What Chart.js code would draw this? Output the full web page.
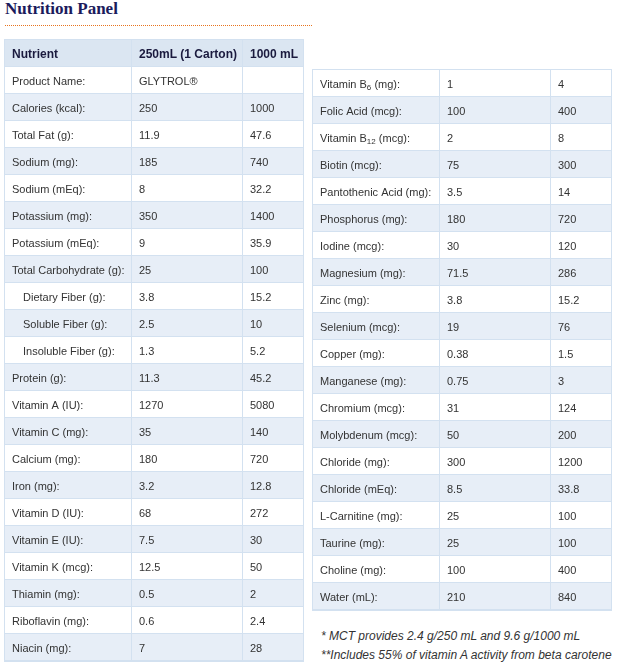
<!DOCTYPE html>
<html><head><meta charset="utf-8">
<script src="https://cdn.jsdelivr.net/npm/chart.js@4"></script>
<style>
html,body{margin:0;padding:0;background:#fff;}
body{width:630px;height:667px;position:relative;overflow:hidden;font-family:"Liberation Sans",Arial,sans-serif;}
#title{position:absolute;left:5px;top:-1px;font:bold 17px "Liberation Serif",serif;color:#1b1b5c;white-space:nowrap;}
#rule{position:absolute;left:5px;top:25px;width:307px;height:0;border-top:1px dotted #e8741e;}
canvas{position:absolute;}
#c1{left:4px;top:39px;}
#c2{left:312px;top:69px;}
.note{position:absolute;left:321px;font:italic 12px "Liberation Sans",Arial,sans-serif;color:#333;white-space:nowrap;}
</style>
</head><body>
<div id="title">Nutrition Panel</div>
<div id="rule"></div>
<canvas id="c1" width="300" height="623" style="width:300px;height:623px"></canvas>
<canvas id="c2" width="300" height="542" style="width:300px;height:542px"></canvas>
<div class="note" style="top:629px">* MCT provides 2.4 g/250 mL and 9.6 g/1000 mL</div>
<div class="note" style="top:648px">**Includes 55% of vitamin A activity from beta carotene</div>
<script>
// ---------- data ----------
const headers = ["Nutrient", "250mL (1 Carton)", "1000 mL"];
const leftNutrients = ["Product Name:", "Calories (kcal):", "Total Fat (g):", "Sodium (mg):", "Sodium (mEq):",
  "Potassium (mg):", "Potassium (mEq):", "Total Carbohydrate (g):", "Dietary Fiber (g):", "Soluble Fiber (g):",
  "Insoluble Fiber (g):", "Protein (g):", "Vitamin A (IU):", "Vitamin C (mg):", "Calcium (mg):", "Iron (mg):",
  "Vitamin D (IU):", "Vitamin E (IU):", "Vitamin K (mcg):", "Thiamin (mg):", "Riboflavin (mg):", "Niacin (mg):"];
const leftPer250 = ["GLYTROL®", 250, 11.9, 185, 8, 350, 9, 25, 3.8, 2.5, 1.3, 11.3, 1270, 35, 180, 3.2, 68, 7.5, 12.5, 0.5, 0.6, 7];
const leftPer1000 = ["", 1000, 47.6, 740, 32.2, 1400, 35.9, 100, 15.2, 10, 5.2, 45.2, 5080, 140, 720, 12.8, 272, 30, 50, 2, 2.4, 28];
const fiberSubRows = ["Dietary Fiber (g):", "Soluble Fiber (g):", "Insoluble Fiber (g):"];

const rightNutrients = ["Vitamin B_6 (mg):", "Folic Acid (mcg):", "Vitamin B_12 (mcg):", "Biotin (mcg):",
  "Pantothenic Acid (mg):", "Phosphorus (mg):", "Iodine (mcg):", "Magnesium (mg):", "Zinc (mg):", "Selenium (mcg):",
  "Copper (mg):", "Manganese (mg):", "Chromium (mcg):", "Molybdenum (mcg):", "Chloride (mg):", "Chloride (mEq):",
  "L-Carnitine (mg):", "Taurine (mg):", "Choline (mg):", "Water (mL):"];
const rightPer250 = [1, 100, 2, 75, 3.5, 180, 30, 71.5, 3.8, 19, 0.38, 0.75, 31, 50, 300, 8.5, 25, 25, 100, 210];
const rightPer1000 = [4, 400, 8, 300, 14, 720, 120, 286, 15.2, 76, 1.5, 3, 124, 200, 1200, 33.8, 100, 100, 400, 840];

// ---------- layout / style ----------
const COLS = [[0, 126], [127, 237], [238, 298]];
const XMAX = 298;
const BORDER = "#d3e1f0", HEAD = "#dbe6f2", ALT = "#e7eef7", WHITE = "#ffffff";
const PAD = 7, INDENT = 11;
const BODY_FONT = '11px "Liberation Sans", Arial, sans-serif';
const SUB_FONT = '8px "Liberation Sans", Arial, sans-serif';
const HEAD_FONT = 'bold 12px "Liberation Sans", Arial, sans-serif';

function drawLabel(ctx, txt, x, y) {
  const m = /^(.*?)_(\d+)(.*)$/.exec(txt);
  if (!m) { ctx.fillText(txt, x, y); return; }
  ctx.fillText(m[1], x, y);
  let w = ctx.measureText(m[1]).width;
  ctx.save(); ctx.font = SUB_FONT; ctx.fillText(m[2], x + w, y + 3);
  const w2 = ctx.measureText(m[2]).width; ctx.restore();
  ctx.fillText(m[3], x + w + w2, y);
}

function makeTable(canvasId, rows, hasHeader) {
  const labels = rows.map(r => r[0]);
  const plugin = {
    id: 'tableText',
    beforeDraw(chart) {
      const c = chart.ctx; c.save(); c.fillStyle = BORDER;
      c.fillRect(0, 0, chart.width, chart.height); c.restore();
    },
    afterDatasetsDraw(chart) {
      const { ctx, scales: { x, y } } = chart;
      ctx.save();
      ctx.textBaseline = 'middle';
      rows.forEach((r, i) => {
        const yy = y.getPixelForValue(i);
        const isHead = hasHeader && i === 0;
        ctx.font = isHead ? HEAD_FONT : BODY_FONT;
        ctx.fillStyle = isHead ? "#1a1a3e" : "#333333";
        r.forEach((v, c) => {
          let xx = x.getPixelForValue(COLS[c][0]) + PAD;
          if (c === 0 && fiberSubRows.includes(v)) xx += INDENT;
          drawLabel(ctx, String(v), xx, yy + 1.5);
        });
      });
      ctx.restore();
    }
  };
  const datasets = COLS.map(col => ({
    data: rows.map(() => [col[0], col[1]]),
    backgroundColor: ctx => {
      const i = ctx.dataIndex;
      if (hasHeader && i === 0) return HEAD;
      const k = hasHeader ? i - 1 : i;
      return k % 2 === 0 ? WHITE : ALT;
    },
    borderWidth: 0,
    grouped: false,
    barPercentage: 26 / 27,
    categoryPercentage: 1
  }));
  return new Chart(document.getElementById(canvasId), {
    type: 'bar',
    data: { labels, datasets },
    options: {
      indexAxis: 'y',
      responsive: false,
      animation: false,
      devicePixelRatio: 1,
      events: [],
      layout: { padding: { top: 0.5, bottom: 1.5, left: 1, right: 1 } },
      plugins: { legend: { display: false }, tooltip: { enabled: false } },
      scales: {
        x: { type: 'linear', min: 0, max: XMAX, display: false },
        y: { type: 'category', display: false, offset: true }
      }
    },
    plugins: [plugin]
  });
}

const leftRows = [headers].concat(leftNutrients.map((n, i) => [n, leftPer250[i], leftPer1000[i]]));
const rightRows = rightNutrients.map((n, i) => [n, rightPer250[i], rightPer1000[i]]);
makeTable('c1', leftRows, true);
makeTable('c2', rightRows, false);
</script>
</body></html>
